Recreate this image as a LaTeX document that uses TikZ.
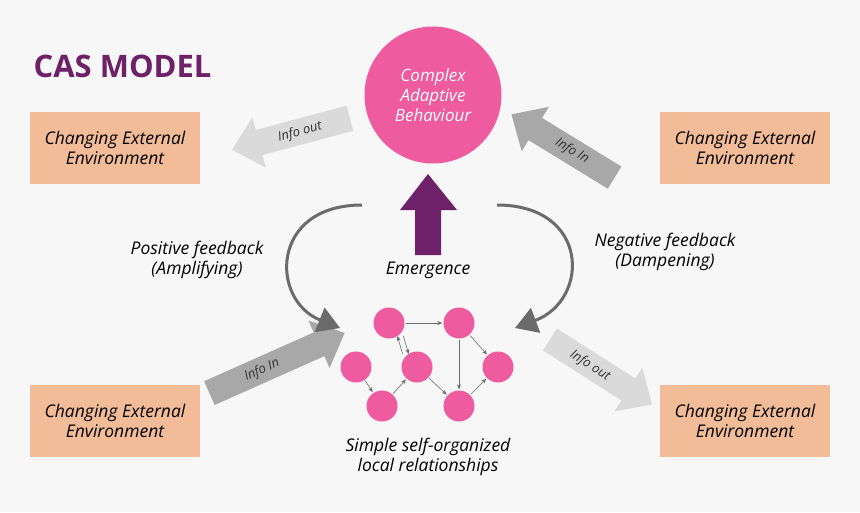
\documentclass[tikz,border=0pt]{standalone}
\usepackage{fontspec}
\setmainfont{Open Sans}
\usetikzlibrary{arrows.meta}
\definecolor{bg}{HTML}{F7F7F7}
\definecolor{boxc}{HTML}{F2BC98}
\definecolor{pinkc}{HTML}{EE5C9F}
\definecolor{purp}{HTML}{6E2068}
\definecolor{darkg}{HTML}{6B6B6B}
\definecolor{midg}{HTML}{A8A8A8}
\definecolor{lightg}{HTML}{DADADA}
\newcommand{\fatarr}[5]{% center, canvas angle, length, colour, name
  \begin{scope}[shift={#1},rotate=#2]
  \fill[#4] (-#3/2,-13) -- (#3/2-28,-13) -- (#3/2-28,-26) -- (#3/2,0) -- (#3/2-28,26) -- (#3/2-28,13) -- (-#3/2,13) -- cycle;
  \end{scope}}
\begin{document}
\begin{tikzpicture}[x=1pt,y=-1pt,
  env/.style={fill=boxc,minimum width=170pt,minimum height=72pt,inner sep=0pt,align=center,font=\fontsize{17.5}{20}\selectfont\itshape},
  fatlbl/.style={inner sep=0pt,font=\fontsize{13}{15}\selectfont\itshape,text=black!80},
  dot/.style={circle,fill=pinkc,minimum size=31pt,inner sep=0pt},
  lk/.style={-{Stealth[length=5pt,width=4pt]},darkg,line width=0.6pt,shorten >=1pt,shorten <=1pt},
  curv/.style={darkg,line width=3pt,-{Triangle[length=22pt,width=26pt]}},
  lbl/.style={align=center,font=\fontsize{17.5}{20.5}\selectfont\itshape}]
\fill[bg] (0,0) rectangle (860,512);
\useasboundingbox (0,0) rectangle (860,512);
\node[anchor=west,text=purp,font=\fontsize{31}{34}\selectfont\bfseries] (title) at (30,66) {CAS MODEL};
\node[env] (e1) at (115,148) {Changing External\\Environment};
\node[env] (e2) at (745,148) {Changing External\\Environment};
\node[env] (e3) at (115,421) {Changing External\\Environment};
\node[env] (e4) at (745,421) {Changing External\\Environment};
\node[circle,fill=pinkc,minimum size=137pt,inner sep=0pt,text=white,align=center,font=\fontsize{17}{20}\selectfont\itshape] (cab) at (433,95) {Complex\\Adaptive\\Behaviour};
\fill[purp] (415,255) -- (441,255) -- (441,210) -- (457,210) -- (428,174) -- (400,210) -- (415,210) -- cycle;
\node[lbl] (em) at (428,270) {Emergence};
\fatarr{(291,134)}{195}{122}{lightg}{a1}
\node[fatlbl,rotate=15] (t1) at (300,132) {Info out};
\fatarr{(563,146)}{148.5}{121}{midg}{a2}
\node[fatlbl,rotate=-31.5] (t2) at (572,151) {Info In};
\fatarr{(277,363)}{24}{148}{midg}{a3}
\node[fatlbl,rotate=24] (t3) at (262,370) {Info In};
\fatarr{(601,372)}{-32.5}{121}{lightg}{a4}
\node[fatlbl,rotate=-32.5] (t4) at (590,366) {Info out};
\coordinate (ls) at (362,205); \coordinate (le) at (340,328);
\coordinate (rs) at (497,205); \coordinate (re) at (515,328);
\draw[curv] (ls) .. controls (270,205) and (270,300) .. (le);
\draw[curv] (rs) .. controls (590,205) and (590,300) .. (re);
\node[lbl] (pf) at (197,260) {Positive feedback\\(Amplifying)};
\node[lbl] (nf) at (665,252) {Negative feedback\\(Dampening)};
\node[dot] (A) at (389,323) {};
\node[dot] (B) at (459,323) {};
\node[dot] (C) at (356,367) {};
\node[dot] (D) at (417,367) {};
\node[dot] (E) at (498,367) {};
\node[dot] (F) at (382,406) {};
\node[dot] (G) at (459,406) {};
\draw[lk] (A) -- (B);
\draw[lk] ([xshift=3pt,yshift=-1pt]A.south east) -- ([xshift=3pt,yshift=1pt]D.north west);
\draw[lk] ([xshift=-3pt,yshift=1pt]D.north west) -- ([xshift=-3pt,yshift=-1pt]A.south east);
\draw[lk] (C) -- (F);
\draw[lk] (F) -- (D);
\draw[lk] (D) -- (G);
\draw[lk] (B) -- (G);
\draw[lk] (B) -- (E);
\draw[lk] (G) -- (E);
\node[lbl] (sl) at (428,457) {Simple self-organized\\local relationships};
\end{tikzpicture}
\end{document}
